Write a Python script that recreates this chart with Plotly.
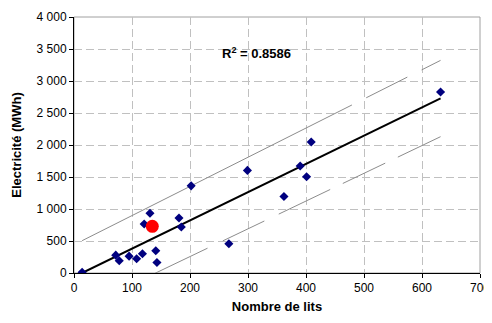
import numpy as np
import plotly.graph_objects as go

# Data
lits = [14, 72, 78, 95, 108, 118, 121, 131, 141, 143, 181, 185, 202, 267, 299, 362, 390, 401, 409, 632]
elec = [10, 279, 191, 263, 222, 301, 765, 933, 348, 165, 860, 718, 1362, 458, 1603, 1195, 1671, 1503, 2047, 2827]
focus_lits = [135]
focus_elec = [729]
# Trend line and prediction band at the ends of the data range
band_x = [14, 632]
trend_y = [0, 2730]
upper_y = [505, 3322]
lower_y = [-550, 2130]
r2_label = "R<sup>2</sup> = 0.8586"
r2_pos = [314, 3440]
x_ticks = [0, 100, 200, 300, 400, 500, 600, 700]
y_ticks = [0, 500, 1000, 1500, 2000, 2500, 3000, 3500, 4000]
y_ticklabels = ["0", "500", "1 000", "1 500", "2 000", "2 500", "3 000", "3 500", "4 000"]

FONT = "Liberation Sans, Arial, sans-serif"
fig = go.Figure()

fig.add_trace(go.Scatter(x=band_x, y=upper_y, mode="lines",
                         line=dict(color="#8c8c8c", width=1, dash="302px,16px,46px,16px,120px"),
                         hoverinfo="skip", showlegend=False))
fig.add_trace(go.Scatter(x=band_x, y=lower_y, mode="lines",
                         line=dict(color="#8c8c8c", width=1,
                                   dash="139px,17px,46px,16px,57px,14px,47px,14px,60px"),
                         hoverinfo="skip", showlegend=False))
fig.add_trace(go.Scatter(x=band_x, y=trend_y, mode="lines",
                         line=dict(color="black", width=2), showlegend=False))
fig.add_trace(go.Scatter(x=lits, y=elec, mode="markers",
                         marker=dict(symbol="diamond", size=7, color="#00007f"), showlegend=False))
fig.add_trace(go.Scatter(x=focus_lits, y=focus_elec, mode="markers",
                         marker=dict(symbol="circle", size=13, color="#ff0000"), showlegend=False))

fig.add_shape(type="rect", xref="x domain", yref="y domain", x0=0, x1=1, y0=0, y1=1,
              line=dict(color="#a0a0a0", width=1), layer="below")

fig.add_annotation(x=r2_pos[0], y=r2_pos[1], xref="x", yref="y", text=r2_label, showarrow=False,
                   font=dict(family=FONT, size=13, color="black", weight="bold"))

fig.update_layout(
    width=484, height=315,
    margin=dict(l=66, r=12, t=9, b=50),
    paper_bgcolor="white", plot_bgcolor="white",
    font=dict(family=FONT, size=12, color="black"),
    xaxis=dict(range=[0, 700], tickvals=x_ticks, showgrid=True, gridcolor="#c0c0c0",
               griddash="8px,4px", gridwidth=1, showline=True, linecolor="black", linewidth=1,
               ticks="outside", ticklen=4, tickcolor="black", zeroline=False, automargin=False,
               title=dict(text="<b>Nombre de lits</b>", font=dict(size=13), standoff=7)),
    yaxis=dict(range=[0, 4000], tickvals=y_ticks, ticktext=y_ticklabels, showgrid=True,
               gridcolor="#c0c0c0", griddash="8px,4px", gridwidth=1, showline=True,
               linecolor="black", linewidth=1, ticks="outside", ticklen=4, tickcolor="black",
               zeroline=False, automargin=False,
               title=dict(text="<b>Electricité (MWh)</b>", font=dict(size=13), standoff=12)),
)

fig.write_html("out.html")
